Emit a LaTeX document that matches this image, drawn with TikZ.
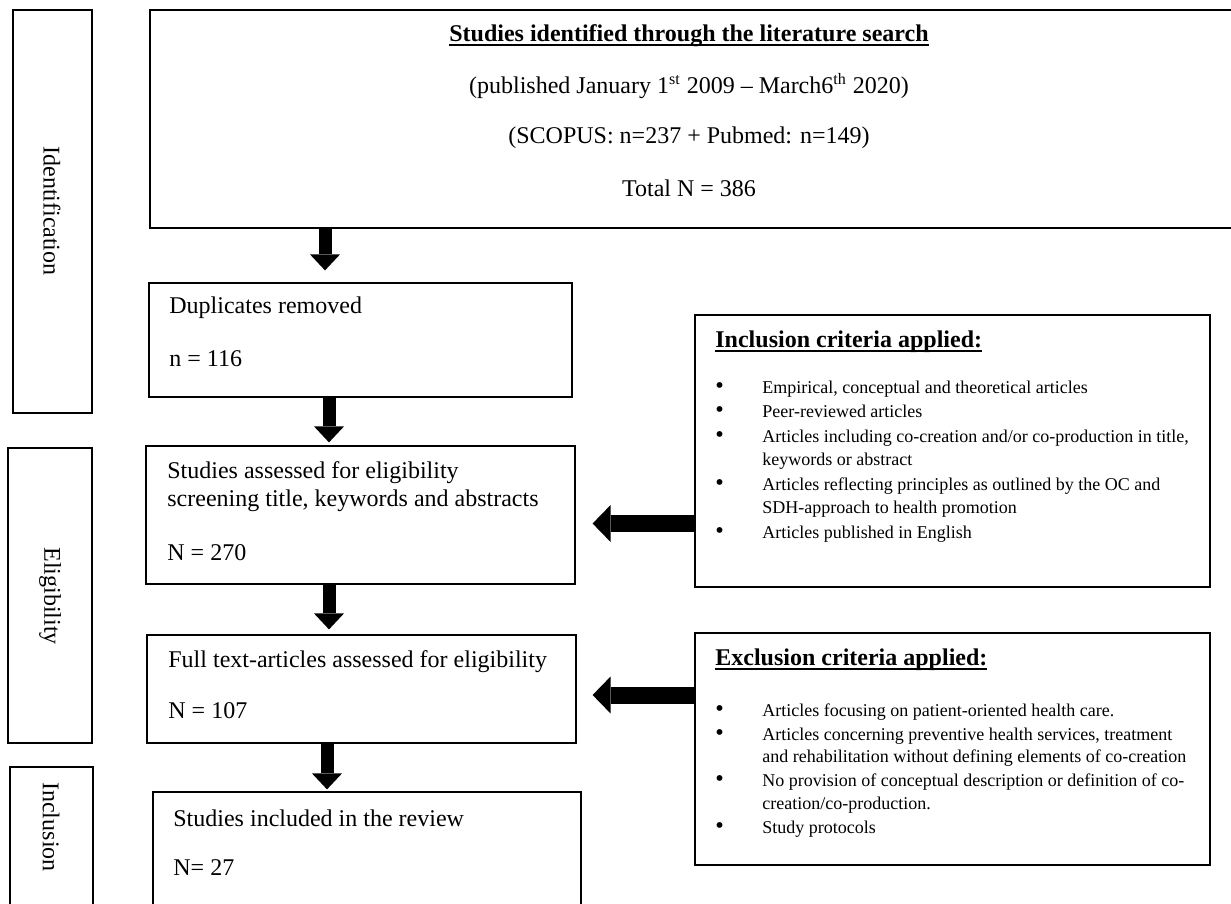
\documentclass[tikz,border=0pt]{standalone}
\usepackage{fontspec}
\setmainfont{Liberation Serif}
\usetikzlibrary{arrows.meta,fit,positioning}

% thick underline for the headings
\newcommand{\hdul}[1]{\setbox0\hbox{#1}\rlap{\rule[-2.5pt]{\wd0}{1.2pt}}\box0}
% list bullet
\newcommand{\critbul}{\smash{\scalebox{1.35}{\textbullet}}}

\tikzset{
  box/.style={draw=black, line width=0.6pt, inner sep=0pt},
  txt/.style={inner sep=0pt, font=\fontsize{12}{14}\selectfont},
  hd/.style={inner sep=0pt, font=\fontsize{12}{14}\selectfont\bfseries},
  fatdown/.style={line width=6.5pt, -{Triangle[length=8pt,width=15pt,line width=0pt]}},
  fatleft/.style={line width=8.5pt, -{Triangle[length=9pt,width=18.5pt,line width=0pt]}},
}

\begin{document}
\begin{tikzpicture}[x=0.5pt,y=-0.5pt]
\useasboundingbox (0,0) rectangle (1231,904);
\clip (0,0) rectangle (1231,904);

% stage labels
\node[box, fit={(13,10) (92,413)}] (idbox) {};
\node[txt, rotate=-90] (idtxt) at (52,211) {Identification};
\node[box, fit={(8,448) (92,743)}] (elbox) {};
\node[txt, rotate=-90] (eltxt) at (50,596) {Eligibility};
\node[box, fit={(10,767) (93,930)}] (inbox) {};
\node[txt, rotate=-90] (intxt) at (51,827) {Inclusion};

% search
\node[box, fit={(150,10) (1240,228)}] (search) {};
\node[hd, anchor=base] (searchhd) at (689,41.5) {\hdul{Studies identified through the literature search}};
\node[txt] (searchpub) at (689,86) {(published January 1\textsuperscript{st} 2009 \textendash{} March6\textsuperscript{th} 2020)};
\node[txt] (searchdb) at (689,138) {(SCOPUS: n=237 + Pubmed: n=149)};
\node[txt] (searchn) at (689,188) {Total N = 386};

% flow boxes
\node[box, fit={(149,283) (572,397)}] (dup) {};
\node[txt, anchor=west] (duptxt) at (169,308) {Duplicates removed};
\node[txt, anchor=west] (dupn) at (169,359) {n = 116};

\node[box, fit={(146,446) (575,584)}] (elig) {};
\node[txt, anchor=west] (eligtxt) at (167,473) {Studies assessed for eligibility};
\node[txt, anchor=west] (eligtxtb) at (167,501) {screening title, keywords and abstracts};
\node[txt, anchor=west] (eligN) at (167,553) {N = 270};

\node[box, fit={(147,635) (576,743)}] (full) {};
\node[txt, anchor=west] (fulltxt) at (168,662) {Full text-articles assessed for eligibility};
\node[txt, anchor=west] (fullN) at (168,711) {N = 107};

\node[box, fit={(153,792) (581,930)}] (incl) {};
\node[txt, anchor=west] (incltxt) at (173,818) {Studies included in the review};
\node[txt, anchor=west] (inclN) at (173,868) {N= 27};

% criteria
\node[box, fit={(695,315) (1210,587)}] (inc) {};
\node[hd, anchor=base west] (inchd) at (715,347) {\hdul{Inclusion criteria applied:}};
\node[inner sep=0pt, anchor=base west, font=\fontsize{9}{11.75}\selectfont] (inclist) at (715,393) {%
\begin{tabular}[t]{@{}p{23.5pt}@{}l@{}}
\critbul & Empirical, conceptual and theoretical articles\\[0.5pt]
\critbul & Peer-reviewed articles\\[0.5pt]
\critbul & Articles including co-creation and/or co-production in title,\\
 & keywords or abstract\\[0.5pt]
\critbul & Articles reflecting principles as outlined by the OC and\\
 & SDH-approach to health promotion\\[0.5pt]
\critbul & Articles published in English
\end{tabular}};

\node[box, fit={(695,633) (1210,865)}] (exc) {};
\node[hd, anchor=base west] (exchd) at (715,665) {\hdul{Exclusion criteria applied:}};
\node[inner sep=0pt, anchor=base west, font=\fontsize{9}{11.25}\selectfont] (exclist) at (715,716) {%
\begin{tabular}[t]{@{}p{23.5pt}@{}l@{}}
\critbul & Articles focusing on patient-oriented health care.\\[0.75pt]
\critbul & Articles concerning preventive health services, treatment\\
 & and rehabilitation without defining elements of co-creation\\[0.75pt]
\critbul & No provision of conceptual description or definition of co-\\
 & creation/co-production.\\[0.75pt]
\critbul & Study protocols
\end{tabular}};

% arrows
\coordinate (c1) at (325,0);
\coordinate (c2) at (329,0);
\coordinate (c3) at (329,0);
\coordinate (c4) at (327,0);
\draw[fatdown, shorten >=6pt] (search.south -| c1) -- (dup.north -| c1);
\draw[fatdown, shorten >=1.5pt] (dup.south -| c2) -- (elig.north -| c2);
\draw[fatdown, shorten >=2.5pt] (elig.south -| c3) -- (full.north -| c3);
\draw[fatdown, shorten >=1pt] (full.south -| c4) -- (incl.north -| c4);

\coordinate (r1) at (0,523.5);
\coordinate (r2) at (0,695);
\draw[fatleft, shorten >=8.5pt] (inc.west |- r1) -- (elig.east |- r1);
\draw[fatleft, shorten >=8pt] (exc.west |- r2) -- (full.east |- r2);
\end{tikzpicture}
\end{document}
